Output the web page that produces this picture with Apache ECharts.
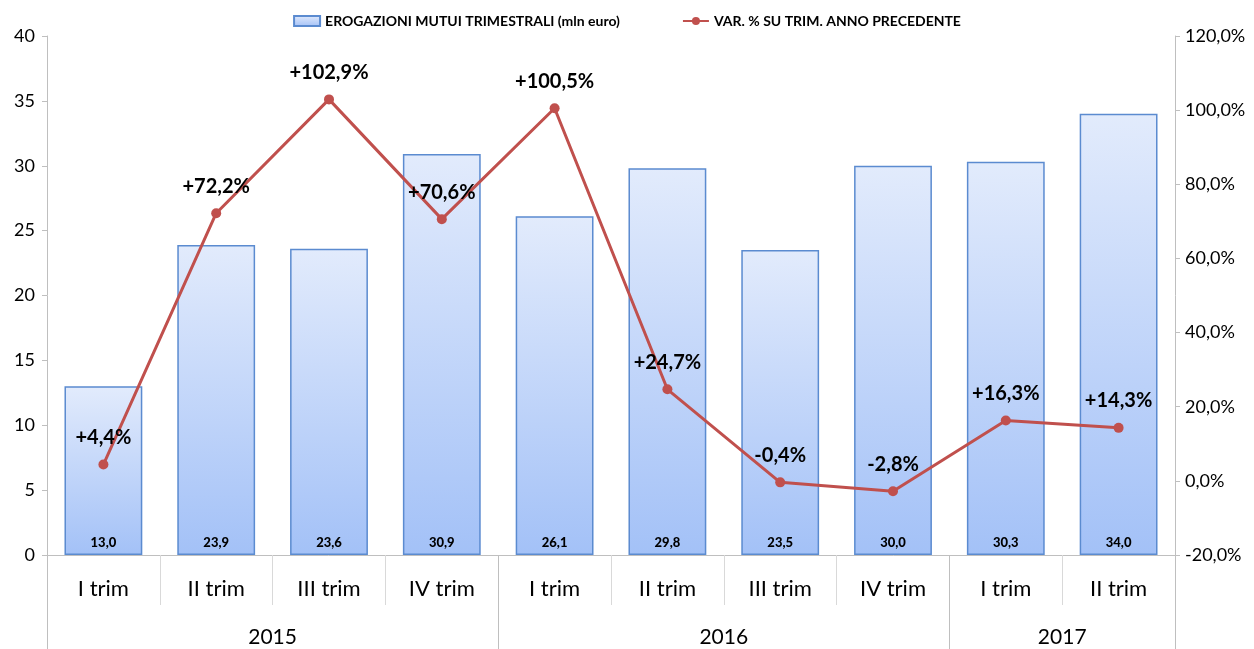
<!DOCTYPE html>
<html>
<head>
<meta charset="utf-8">
<script src="https://cdn.jsdelivr.net/npm/echarts@6/dist/echarts.min.js"></script>
<style>
  html, body { margin: 0; padding: 0; background: #fff; }
  #chart { width: 1254px; height: 649px; }
</style>
</head>
<body>
<div id="chart"></div>
<script>
// dati
const trimestri = ['I trim', 'II trim', 'III trim', 'IV trim', 'I trim', 'II trim', 'III trim', 'IV trim', 'I trim', 'II trim']
const anni = ['2015', '2016', '2017']
const anniCentro = [2, 6, 9] // centro di ogni anno (in numero di trimestri)
const anniBordi = [0, 4, 8, 10]
const erogazioni = [13.0, 23.9, 23.6, 30.9, 26.1, 29.8, 23.5, 30.0, 30.3, 34.0]
const variazioni = [4.4, 72.2, 102.9, 70.6, 100.5, 24.7, -0.4, -2.8, 16.3, 14.3]

const FONT = 'Lato'
const fmtNum = v => v.toFixed(1).replace('.', ',')

const chart = echarts.init(document.getElementById('chart'))
const option = {
  animation: false,
  textStyle: { fontFamily: FONT },
  legend: {
    top: 9,
    left: 'center',
    itemGap: 62,
    itemWidth: 26,
    itemHeight: 10,
    textStyle: { fontSize: 14, fontWeight: 'bold', color: '#000', fontFamily: FONT },
    data: [
      { name: 'EROGAZIONI MUTUI TRIMESTRALI (mln euro)', icon: 'rect' },
      { name: 'VAR. % SU TRIM. ANNO PRECEDENTE' }
    ]
  },
  grid: {
    left: 47,
    right: 79,
    top: 36,
    bottom: 94
  },
  xAxis: [
    {
      type: 'category',
      data: trimestri,
      axisLine: { onZero: false, lineStyle: { color: '#bfbfbf' } },
      axisTick: { show: true, interval: 0, length: 50, lineStyle: { color: '#d9d9d9' } },
      axisLabel: { interval: 0, fontSize: 22, color: '#000', margin: 23, fontFamily: FONT }
    },
    {
      type: 'value',
      position: 'bottom',
      min: 0,
      max: 10,
      axisLine: { show: false, onZero: false },
      splitLine: { show: false },
      axisTick: {
        show: true,
        inside: false,
        customValues: anniBordi,
        length: 94,
        lineStyle: { color: '#bfbfbf' }
      },
      axisLabel: {
        customValues: anniCentro,
        fontSize: 21,
        color: '#000',
        margin: 72,
        fontFamily: FONT,
        formatter: v => anni[anniCentro.indexOf(v)] || ''
      }
    }
  ],
  yAxis: [
    {
      type: 'value',
      min: 0,
      max: 40,
      interval: 5,
      axisLine: { show: true, lineStyle: { color: '#bfbfbf' } },
      axisTick: { show: true, length: 5, lineStyle: { color: '#bfbfbf' } },
      splitLine: { show: false },
      axisLabel: { fontSize: 18, color: '#000', margin: 12, fontFamily: FONT }
    },
    {
      type: 'value',
      min: -20,
      max: 120,
      interval: 20,
      position: 'right',
      axisLine: { show: true, lineStyle: { color: '#bfbfbf' } },
      axisTick: { show: true, length: 5, lineStyle: { color: '#bfbfbf' } },
      splitLine: { show: false },
      axisLabel: {
        fontSize: 18, color: '#000', margin: 10, fontFamily: FONT,
        formatter: v => fmtNum(v) + '%'
      }
    }
  ],
  series: [
    {
      name: 'EROGAZIONI MUTUI TRIMESTRALI (mln euro)',
      type: 'bar',
      data: erogazioni,
      barWidth: '69%',
      itemStyle: {
        color: new echarts.graphic.LinearGradient(0, 0, 0, 1, [
          { offset: 0, color: '#e2ebfc' },
          { offset: 1, color: '#a3c1f7' }
        ]),
        borderColor: '#5b8bd0',
        borderWidth: 1.5
      },
      label: {
        show: true,
        position: 'insideBottom',
        distance: 6,
        fontSize: 13,
        fontWeight: 900,
        color: '#000',
        fontFamily: FONT,
        formatter: p => fmtNum(p.value)
      },
      z: 2
    },
    {
      name: 'VAR. % SU TRIM. ANNO PRECEDENTE',
      type: 'line',
      yAxisIndex: 1,
      data: variazioni,
      symbol: 'circle',
      symbolSize: 10,
      lineStyle: { color: '#c0504d', width: 3 },
      itemStyle: { color: '#c0504d' },
      label: {
        show: true,
        position: 'top',
        distance: 12,
        fontSize: 20,
        fontWeight: 'bold',
        color: '#000',
        fontFamily: FONT,
        formatter: p => (p.value > 0 ? '+' : '') + fmtNum(p.value) + '%'
      },
      z: 5
    }
  ]
}
chart.setOption(option)
</script>
</body>
</html>
